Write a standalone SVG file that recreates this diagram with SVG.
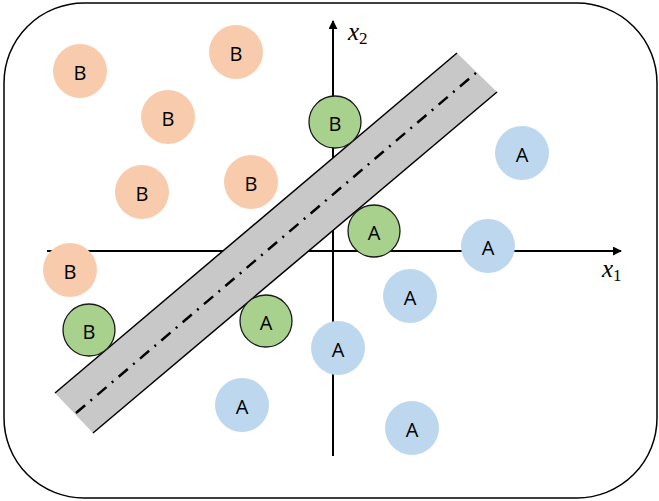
<svg xmlns="http://www.w3.org/2000/svg" width="659" height="501" viewBox="0 0 659 501">
<defs>
<marker id="arr" viewBox="0 0 10 10" refX="9" refY="5" markerWidth="9" markerHeight="9" markerUnits="userSpaceOnUse" orient="auto"><path d="M0,0 L10,5 L0,10 Z" fill="#000"/></marker>
</defs>
<style>
.lbl{font-family:"Open Sans","Liberation Sans",sans-serif;font-size:20px;fill:#000;text-anchor:middle;dominant-baseline:central}
.ax{font-family:"Liberation Serif","DejaVu Serif",serif;font-style:italic;font-size:25px;fill:#000}
.sub{font-family:"Liberation Serif",serif;font-size:17px;font-style:normal}
.ob{fill:#f8cbad}
.ga{fill:#a9d18e;stroke:#1a1a1a;stroke-width:1.3}
.ba{fill:#bdd7ee}
</style>
<rect x="4" y="3" width="653" height="495" rx="80" ry="80" fill="#fff" stroke="#000" stroke-width="1.5"/>
<g id="connectors">
<line x1="47" y1="251" x2="621" y2="251" stroke="#000" stroke-width="2" marker-end="url(#arr)"/>
<line x1="333" y1="456" x2="333" y2="21" stroke="#000" stroke-width="2" marker-end="url(#arr)"/>
</g>
<g id="band">
<polygon points="55,393 457,53 497,92 93,433" fill="#c8c8c8"/>
<line x1="55" y1="393" x2="457" y2="53" stroke="#000" stroke-width="1.5"/>
<line x1="93" y1="433" x2="497" y2="92" stroke="#000" stroke-width="1.5"/>
<line x1="76" y1="413" x2="477" y2="72" stroke="#000" stroke-width="2.5" stroke-dasharray="12,7,2,7"/>
</g>
<g id="labels">
<text class="ax" x="348" y="40">x<tspan class="sub" dy="4">2</tspan></text>
<text class="ax" x="602" y="277">x<tspan class="sub" dy="4">1</tspan></text>
</g>
<g id="b1"><circle class="ob" cx="80" cy="71" r="27"/><text class="lbl" x="80" y="72">B</text></g>
<g id="b2"><circle class="ob" cx="236" cy="52" r="27"/><text class="lbl" x="236" y="53">B</text></g>
<g id="b3"><circle class="ob" cx="168" cy="117" r="27"/><text class="lbl" x="168" y="118">B</text></g>
<g id="b4"><circle class="ob" cx="142" cy="192" r="27"/><text class="lbl" x="142" y="193">B</text></g>
<g id="b5"><circle class="ob" cx="251" cy="182" r="27"/><text class="lbl" x="251" y="183">B</text></g>
<g id="b6"><circle class="ob" cx="70" cy="270" r="27"/><text class="lbl" x="70" y="271">B</text></g>
<g id="gb1"><circle class="ga" cx="335" cy="122" r="26"/><text class="lbl" x="335" y="123">B</text></g>
<g id="gb2"><circle class="ga" cx="89" cy="330" r="26"/><text class="lbl" x="89" y="331">B</text></g>
<g id="ga1"><circle class="ga" cx="374" cy="231" r="26"/><text class="lbl" x="374" y="232">A</text></g>
<g id="ga2"><circle class="ga" cx="266" cy="321" r="26"/><text class="lbl" x="266" y="322">A</text></g>
<g id="a1"><circle class="ba" cx="522" cy="153" r="27"/><text class="lbl" x="522" y="154">A</text></g>
<g id="a2"><circle class="ba" cx="488" cy="246" r="27"/><text class="lbl" x="488" y="247">A</text></g>
<g id="a3"><circle class="ba" cx="410" cy="296" r="27"/><text class="lbl" x="410" y="297">A</text></g>
<g id="a4"><circle class="ba" cx="338" cy="348" r="27"/><text class="lbl" x="338" y="349">A</text></g>
<g id="a5"><circle class="ba" cx="242" cy="405" r="27"/><text class="lbl" x="242" y="406">A</text></g>
<g id="a6"><circle class="ba" cx="412" cy="428" r="27"/><text class="lbl" x="412" y="429">A</text></g>
</svg>
